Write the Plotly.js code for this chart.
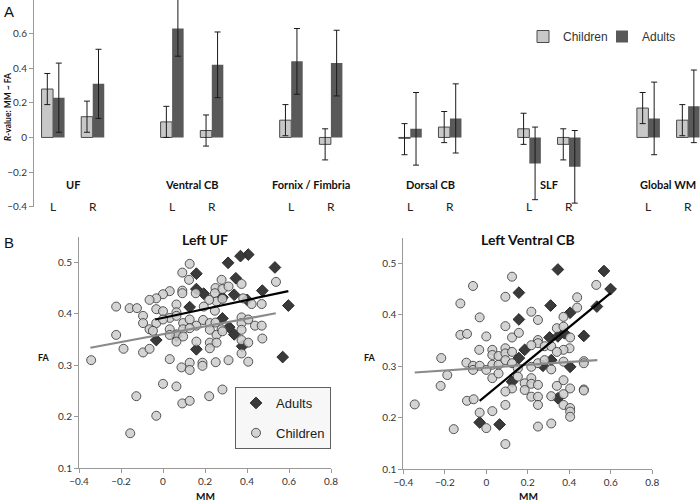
<!DOCTYPE html>
<html>
<head>
<meta charset="utf-8">
<script src="https://cdn.plot.ly/plotly-3.0.1.min.js"></script>
<style>html,body{margin:0;padding:0;background:#fff;}#chart{width:700px;height:502px;}</style>
</head>
<body>
<div id="chart"></div>
<script>
// ---------- Panel A data ----------
const groups = ['UF', 'Ventral CB', 'Fornix / Fimbria', 'Dorsal CB', 'SLF', 'Global WM'];
const sides = ['L', 'R'];
const childR  = [0.28, 0.12, 0.09, 0.04, 0.10, -0.04, -0.005, 0.06, 0.05, -0.04, 0.17, 0.10];
const childLo = [0.19, 0.03, 0.00, -0.05, 0.01, -0.13, -0.10, -0.03, -0.04, -0.13, 0.08, 0.01];
const childHi = [0.37, 0.21, 0.18, 0.13, 0.19, 0.05, 0.08, 0.15, 0.14, 0.05, 0.26, 0.19];
const adultR  = [0.23, 0.31, 0.63, 0.42, 0.44, 0.43, 0.05, 0.11, -0.15, -0.17, 0.11, 0.18];
const adultLo = [0.03, 0.11, 0.47, 0.23, 0.25, 0.24, -0.16, -0.09, -0.36, -0.38, -0.10, -0.03];
const adultHi = [0.43, 0.51, 0.80, 0.61, 0.63, 0.62, 0.26, 0.31, 0.06, 0.04, 0.32, 0.39];
const yTicksA = [-0.4, -0.2, 0, 0.2, 0.4, 0.6];

// ---------- Panel B data: Left UF ----------
const ufAdultMM = [0.406, 0.369, 0.310, 0.533, 0.159, 0.347, 0.159, 0.194, 0.473, 0.283, 0.339, 0.401, 0.127, 0.597, 0.283, 0.315, 0.339, -0.032, 0.064, 0.159, 0.377, 0.570];
const ufAdultFA = [0.515, 0.512, 0.499, 0.490, 0.478, 0.469, 0.448, 0.439, 0.445, 0.432, 0.437, 0.427, 0.413, 0.416, 0.391, 0.374, 0.360, 0.349, 0.357, 0.331, 0.337, 0.316];
const ufChildMM = [0.127, 0.092, 0.124, 0.279, 0.538, 0.374, 0.250, 0.283, 0.312, 0.092, 0.092, 0.032, 0.000, -0.032, -0.064, 0.156, 0.247, 0.255, 0.283, 0.220, 0.382, 0.422, 0.470,
  -0.223, -0.159, -0.124, -0.032, 0.000, 0.064, 0.064, 0.194, 0.247, -0.095, -0.032, 0.032, 0.000, 0.064, 0.096, 0.127, 0.159, 0.191, 0.223, 0.250, 0.279, 0.374, 0.374, 0.406, 0.438, 0.470,
  -0.095, -0.064, -0.048, -0.223, 0.032, 0.064, 0.096, 0.127, 0.223, 0.255, 0.283, 0.374, 0.032, 0.064, 0.096, 0.159, 0.223, 0.255, 0.374, 0.406, 0.473,
  -0.188, -0.095, -0.064, 0.223, 0.374, 0.032, 0.088, 0.127, 0.127, 0.188, 0.188, 0.251, 0.312, 0.406, -0.342, 0.000, 0.064, 0.283, -0.127, 0.220, 0.092, 0.127, -0.032, -0.156];
const ufChildFA = [0.497, 0.480, 0.466, 0.466, 0.462, 0.458, 0.450, 0.448, 0.453, 0.445, 0.440, 0.444, 0.438, 0.430, 0.427, 0.440, 0.440, 0.424, 0.429, 0.427, 0.430, 0.419, 0.419,
  0.414, 0.411, 0.411, 0.409, 0.405, 0.418, 0.403, 0.414, 0.406, 0.396, 0.382, 0.392, 0.389, 0.396, 0.382, 0.389, 0.377, 0.388, 0.382, 0.383, 0.370, 0.393, 0.382, 0.389, 0.377, 0.377,
  0.382, 0.370, 0.367, 0.359, 0.370, 0.360, 0.370, 0.372, 0.369, 0.359, 0.366, 0.369, 0.359, 0.346, 0.356, 0.346, 0.344, 0.344, 0.349, 0.344, 0.352,
  0.332, 0.325, 0.332, 0.333, 0.323, 0.312, 0.296, 0.305, 0.291, 0.305, 0.299, 0.306, 0.310, 0.307, 0.310, 0.264, 0.259, 0.253, 0.240, 0.240, 0.226, 0.231, 0.202, 0.168];
const ufAdultFitMM = [-0.037, 0.597];
const ufAdultFitFA = [0.389, 0.444];
const ufChildFitMM = [-0.346, 0.537];
const ufChildFitFA = [0.334, 0.401];

// ---------- Panel B data: Left Ventral CB ----------
const cbAdultMM = [0.345, 0.567, 0.599, 0.157, 0.310, 0.533, 0.404, 0.157, 0.305, 0.345, 0.377, 0.470, 0.185, 0.157, 0.313, 0.124, 0.404, 0.273, 0.345, -0.032, 0.064];
const cbAdultFA = [0.488, 0.485, 0.450, 0.443, 0.418, 0.416, 0.404, 0.391, 0.356, 0.358, 0.364, 0.359, 0.332, 0.316, 0.312, 0.270, 0.299, 0.301, 0.238, 0.191, 0.187];
const cbChildMM = [0.124, -0.064, 0.530, 0.092, 0.438, -0.125, 0.217, 0.438, -0.032, 0.249, 0.372, 0.092, -0.125, -0.093, 0.000, 0.124, 0.157, 0.340, 0.372, 0.404,
  0.249, 0.249, 0.217, 0.401, 0.372, -0.034, 0.029, 0.029, 0.059, 0.092, 0.092, 0.124, 0.281, 0.313, 0.340,
  -0.217, -0.096, -0.064, -0.064, -0.032, 0.000, 0.029, 0.059, 0.092, 0.124, 0.152, 0.217, 0.249, 0.281, 0.313, 0.372, 0.470, 0.470,
  -0.188, 0.029, 0.059, 0.152, 0.217, 0.185, 0.217, 0.372, -0.220, 0.340, 0.249, 0.124, 0.185, 0.092, 0.404, 0.470, 0.470,
  0.217, 0.249, 0.313, 0.372, -0.093, -0.061, 0.092, 0.249, 0.372, 0.404, 0.404, 0.404, -0.032, 0.029, -0.345, -0.157, 0.000, 0.249, 0.313, 0.092];
const cbChildFA = [0.474, 0.456, 0.458, 0.435, 0.434, 0.422, 0.406, 0.414, 0.395, 0.390, 0.396, 0.378, 0.361, 0.363, 0.358, 0.356, 0.365, 0.374, 0.377, 0.356,
  0.351, 0.345, 0.341, 0.335, 0.332, 0.332, 0.332, 0.322, 0.320, 0.335, 0.325, 0.328, 0.339, 0.339, 0.328,
  0.316, 0.307, 0.301, 0.293, 0.301, 0.293, 0.303, 0.303, 0.312, 0.306, 0.296, 0.299, 0.306, 0.312, 0.294, 0.309, 0.310, 0.306,
  0.283, 0.277, 0.286, 0.280, 0.277, 0.267, 0.266, 0.273, 0.262, 0.262, 0.264, 0.257, 0.254, 0.251, 0.257, 0.255, 0.253,
  0.241, 0.241, 0.242, 0.246, 0.233, 0.236, 0.225, 0.225, 0.225, 0.219, 0.212, 0.202, 0.210, 0.213, 0.226, 0.178, 0.180, 0.183, 0.189, 0.149];
const cbAdultFitMM = [-0.032, 0.599];
const cbAdultFitFA = [0.233, 0.442];
const cbChildFitMM = [-0.345, 0.535];
const cbChildFitFA = [0.288, 0.312];

const scatterXTicks = [-0.4, -0.2, 0, 0.2, 0.4, 0.6, 0.8];
const scatterYTicks = [0.1, 0.2, 0.3, 0.4, 0.5];

// ---------- build ----------
const xpos = [];
const sideLabels = [];
groups.forEach((g, gi) => sides.forEach((s, si) => { xpos.push(gi * 3 + si); sideLabels.push(s); }));
const diffUp = (v, hi) => v.map((d, i) => hi[i] - d);
const diffDn = (v, lo) => v.map((d, i) => d - lo[i]);

const ERR = {type: 'data', symmetric: false, color: '#1a1a1a', thickness: 1, width: 3};
const traces = [
  {type: 'bar', name: 'Children', x: xpos, y: childR, width: 0.29, offset: -0.29,
   marker: {color: '#c8c8c8', line: {color: '#4a4a4a', width: 1}},
   error_y: Object.assign({}, ERR, {array: diffUp(childR, childHi), arrayminus: diffDn(childR, childLo)}),
   xaxis: 'x', yaxis: 'y', legend: 'legend', hoverinfo: 'skip'},
  {type: 'bar', name: 'Adults', x: xpos, y: adultR, width: 0.29, offset: 0,
   marker: {color: '#595959', line: {color: '#595959', width: 0}},
   error_y: Object.assign({}, ERR, {array: diffUp(adultR, adultHi), arrayminus: diffDn(adultR, adultLo)}),
   xaxis: 'x', yaxis: 'y', legend: 'legend', hoverinfo: 'skip'}
];

const diamond = {symbol: 'diamond', size: 9, color: '#3a3a3a', line: {color: '#2a2a2a', width: 1}};
const circle = {symbol: 'circle', size: 9, color: '#cfcfcf', opacity: 0.88, line: {color: '#3c3c3c', width: 1}};
function panel(xa, ya, aMM, aFA, cMM, cFA, afx, afy, cfx, cfy, showLeg) {
  traces.push({type: 'scatter', mode: 'markers', name: 'Adults', x: aMM, y: aFA, marker: diamond,
    xaxis: xa, yaxis: ya, legend: 'legend2', legendgroup: 'a', showlegend: showLeg, hoverinfo: 'skip'});
  traces.push({type: 'scatter', mode: 'markers', name: 'Children', x: cMM, y: cFA, marker: circle,
    xaxis: xa, yaxis: ya, legend: 'legend2', legendgroup: 'c', showlegend: showLeg, hoverinfo: 'skip'});
  traces.push({type: 'scatter', mode: 'lines', x: cfx, y: cfy, line: {color: '#8a8a8a', width: 2.2},
    xaxis: xa, yaxis: ya, showlegend: false, hoverinfo: 'skip'});
  traces.push({type: 'scatter', mode: 'lines', x: afx, y: afy, line: {color: '#000000', width: 2.2},
    xaxis: xa, yaxis: ya, showlegend: false, hoverinfo: 'skip'});
}
panel('x2', 'y2', ufAdultMM, ufAdultFA, ufChildMM, ufChildFA, ufAdultFitMM, ufAdultFitFA, ufChildFitMM, ufChildFitFA, true);
panel('x3', 'y3', cbAdultMM, cbAdultFA, cbChildMM, cbChildFA, cbAdultFitMM, cbAdultFitFA, cbChildFitMM, cbChildFitFA, false);

const TF = 'Lato, "Open Sans", sans-serif';
const AF = '"Liberation Sans", Arial, sans-serif';
const tickFont = {family: TF, size: 10, color: '#333'};

const annotations = [];
xpos.forEach((p, i) => annotations.push({xref: 'x', yref: 'y', x: p, y: -0.4, text: sideLabels[i],
  showarrow: false, yanchor: 'middle', xanchor: 'center', font: {family: TF, size: 12, color: '#222'}}));
groups.forEach((g, gi) => annotations.push({xref: 'x', yref: 'y', x: gi * 3 + 0.5, y: -0.27, text: '<b>' + g + '</b>',
  showarrow: false, yanchor: 'middle', xanchor: 'center', font: {family: TF, size: 11, color: '#111'}}));
annotations.push(
  {xref: 'paper', yref: 'paper', x: 8 / 700, y: 1 - 107 / 502, text: '<b><i>R</i>-value: MM ~ FA</b>', textangle: -90,
   showarrow: false, xanchor: 'center', yanchor: 'middle', font: {family: TF, size: 8.5, color: '#111'}},
  {xref: 'paper', yref: 'paper', x: 2 / 700, y: 1 - 1 / 502, text: 'A', showarrow: false, xanchor: 'left', yanchor: 'top',
   font: {family: AF, size: 15, color: '#111'}},
  {xref: 'paper', yref: 'paper', x: 2 / 700, y: 1 - 232 / 502, text: 'B', showarrow: false, xanchor: 'left', yanchor: 'top',
   font: {family: AF, size: 15, color: '#111'}},
  {xref: 'paper', yref: 'paper', x: 205 / 700, y: 1 - 239 / 502, text: '<b>Left UF</b>', showarrow: false, xanchor: 'center', yanchor: 'middle',
   font: {family: TF, size: 14, color: '#111'}},
  {xref: 'paper', yref: 'paper', x: 528 / 700, y: 1 - 239 / 502, text: '<b>Left Ventral CB</b>', showarrow: false, xanchor: 'center', yanchor: 'middle',
   font: {family: TF, size: 14, color: '#111'}},
  {xref: 'paper', yref: 'paper', x: 44 / 700, y: 1 - 357 / 502, text: '<b>FA</b>', showarrow: false, xanchor: 'center', yanchor: 'middle',
   font: {family: TF, size: 9, color: '#111'}},
  {xref: 'paper', yref: 'paper', x: 370 / 700, y: 1 - 357 / 502, text: '<b>FA</b>', showarrow: false, xanchor: 'center', yanchor: 'middle',
   font: {family: TF, size: 9, color: '#111'}},
  {xref: 'paper', yref: 'paper', x: 205 / 700, y: 1 - 496 / 502, text: '<b>MM</b>', showarrow: false, xanchor: 'center', yanchor: 'middle',
   font: {family: TF, size: 10, color: '#111'}},
  {xref: 'paper', yref: 'paper', x: 528 / 700, y: 1 - 496 / 502, text: '<b>MM</b>', showarrow: false, xanchor: 'center', yanchor: 'middle',
   font: {family: TF, size: 10, color: '#111'}}
);

const sAxisX = (dom) => ({domain: dom, range: [-0.4, 0.8], tickvals: scatterXTicks, showline: true, linecolor: '#999', linewidth: 1,
  ticks: 'outside', ticklen: 4, tickcolor: '#999', showgrid: false, zeroline: false, tickfont: tickFont, fixedrange: true});
const sAxisY = (dom, anchor) => ({domain: dom, range: [0.1, 0.55], tickvals: scatterYTicks, showline: true, linecolor: '#999', linewidth: 1,
  ticks: 'outside', ticklen: 4, tickcolor: '#999', showgrid: false, zeroline: false, tickfont: tickFont, anchor: anchor, fixedrange: true});

const layout = {
  width: 700, height: 502, margin: {l: 0, r: 0, t: 0, b: 0}, paper_bgcolor: '#fff', plot_bgcolor: 'rgba(0,0,0,0)',
  showlegend: true, barmode: 'group',
  xaxis: {domain: [34 / 700, 1], range: [-0.48, 16.3], showline: false, showticklabels: false, ticks: '', showgrid: false, zeroline: false, fixedrange: true},
  yaxis: {domain: [1 - 206.6 / 502, 1], range: [-0.4, 0.795], tickvals: yTicksA, showline: true, linecolor: '#999', linewidth: 1,
    ticks: 'outside', ticklen: 4, tickcolor: '#999', showgrid: false, zeroline: false, tickfont: tickFont, fixedrange: true},
  xaxis2: Object.assign(sAxisX([79 / 700, 331 / 700]), {anchor: 'y2'}),
  yaxis2: sAxisY([1 - 468.3 / 502, 1 - 236.55 / 502], 'x2'),
  xaxis3: Object.assign(sAxisX([403.3 / 700, 652.3 / 700]), {anchor: 'y3'}),
  yaxis3: sAxisY([1 - 469.3 / 502, 1 - 237.55 / 502], 'x3'),
  legend: {orientation: 'h', x: 523 / 700, y: 1 - 22 / 502, xanchor: 'left', yanchor: 'top', bgcolor: 'rgba(0,0,0,0)',
    font: {family: AF, size: 12, color: '#333'}, itemwidth: 30, entrywidth: 34},
  legend2: {x: 331 / 700, y: 1 - 387 / 502, xanchor: 'right', yanchor: 'top', bgcolor: '#f7f7f7', bordercolor: '#606060', borderwidth: 1,
    font: {family: AF, size: 13, color: '#222'}, itemwidth: 30, tracegroupgap: 10, traceorder: 'grouped'},
  annotations: annotations
};

Plotly.newPlot('chart', traces, layout, {displayModeBar: false, staticPlot: true});
</script>
</body>
</html>
